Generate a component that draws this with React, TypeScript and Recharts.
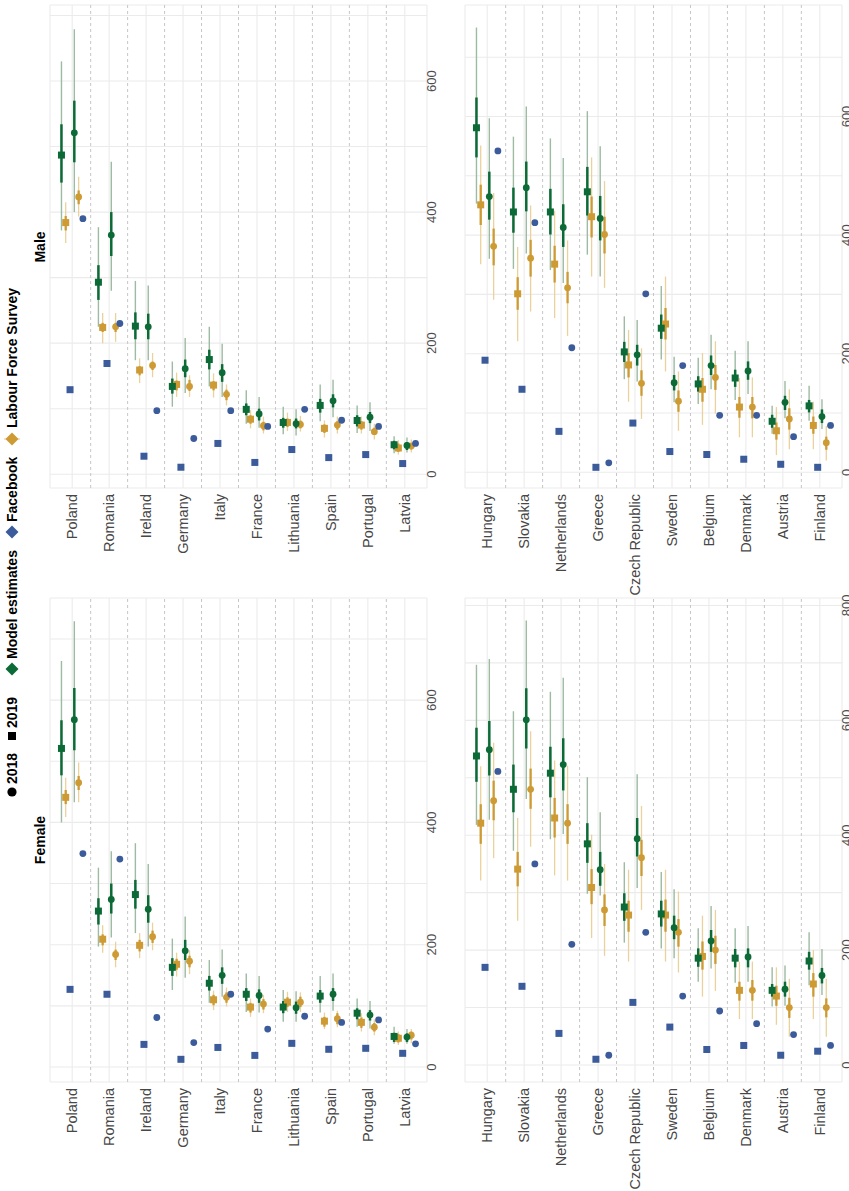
import React from 'react';
import { ScatterChart, Scatter, XAxis, YAxis, CartesianGrid, ErrorBar, ReferenceLine } from 'recharts';

// rows of [estimate, inner low, inner high, outer low, outer high]
const countriesTop = ['Poland', 'Romania', 'Ireland', 'Germany', 'Italy', 'France', 'Lithuania', 'Spain', 'Portugal', 'Latvia'];
const countriesBottom = ['Hungary', 'Slovakia', 'Netherlands', 'Greece', 'Czech Republic', 'Sweden', 'Belgium', 'Denmark', 'Austria', 'Finland'];

const maleTopModel19 = [[487, 445, 534, 372, 630], [293, 266, 319, 225, 377], [226, 206, 247, 174, 295], [134, 123, 146, 103, 172], [175, 160, 190, 134, 225], [99, 90, 108, 77, 128], [79, 71, 86, 61, 103], [105, 94, 115, 81, 137], [82, 73, 90, 63, 105], [45, 38, 51, 32, 58]];
const maleTopLfs19 = [[384, 372, 394, 353, 415], [224, 217, 231, 200, 246], [159, 151, 165, 139, 177], [137, 128, 143, 118, 155], [136, 128, 142, 117, 154], [84, 77, 90, 70, 98], [79, 72, 85, 66, 94], [70, 63, 76, 56, 82], [75, 68, 81, 62, 88], [40, 34, 47, 30, 52]];
const maleTopFb19 = [129, 169, 27.5, 10.7, 47, 18, 37.7, 25.4, 30, 16.3];
const maleTopModel18 = [[521, 476, 570, 400, 679], [365, 333, 400, 280, 477], [225, 206, 245, 174, 288], [161, 148, 175, 124, 208], [155, 141, 168, 118, 199], [92, 82, 100, 71, 118], [77, 70, 85, 59, 99], [112, 102, 122, 87, 144], [87, 78, 95, 66, 110], [44, 37, 49, 33, 56]];
const maleTopLfs18 = [[423, 412, 433, 393, 454], [225, 217, 231, 202, 246], [166, 159, 172, 148, 185], [134, 127, 144, 118, 151], [122, 113, 129, 105, 137], [74, 67, 80, 62, 88], [76, 70, 82, 65, 89], [75, 68, 81, 62, 88], [65, 60, 71, 53, 77], [43, 38, 48, 33, 53]];
const maleTopFb18 = [390, 230, 97, 54.5, 97, 73, 99, 82.4, 73, 47];

const maleBotModel19 = [[581, 531, 632, 453, 750], [439, 404, 480, 343, 566], [439, 401, 478, 341, 563], [473, 433, 515, 367, 609], [203, 186, 220, 157, 263], [243, 225, 266, 190, 314], [149, 136, 162, 115, 193], [159, 144, 173, 122, 205], [86, 75, 97, 65, 112], [112, 101, 122, 87, 146]];
const maleBotLfs19 = [[451, 417, 485, 351, 551], [301, 274, 329, 221, 380], [351, 320, 382, 260, 441], [431, 396, 465, 330, 531], [181, 160, 201, 119, 240], [250, 224, 277, 170, 330], [140, 119, 159, 80, 201], [110, 92, 127, 59, 159], [70, 55, 84, 29, 110], [79, 65, 94, 39, 119]];
const maleBotFb19 = [189, 140, 69, 8.4, 83, 35, 30, 22, 13.5, 8.4];
const maleBotModel18 = [[465, 426, 507, 360, 597], [480, 440, 524, 369, 617], [413, 380, 452, 319, 530], [428, 391, 466, 330, 550], [198, 180, 215, 153, 257], [151, 138, 164, 118, 195], [180, 164, 197, 140, 232], [171, 156, 187, 132, 221], [118, 105, 129, 91, 154], [94, 83, 106, 73, 123]];
const maleBotLfs18 = [[381, 349, 411, 291, 471], [361, 330, 392, 271, 450], [311, 285, 338, 230, 391], [401, 369, 431, 311, 491], [150, 129, 172, 90, 209], [120, 102, 138, 70, 170], [160, 139, 181, 99, 221], [110, 91, 127, 59, 160], [90, 72, 108, 39, 140], [50, 38, 60, 20, 78]];
const maleBotFb18 = [542, 421, 210, 16, 301, 180, 96, 96, 60, 79];

const femTopModel19 = [[521, 477, 567, 400, 664], [255, 233, 276, 197, 326], [282, 259, 306, 219, 366], [163, 149, 178, 126, 210], [137, 125, 149, 105, 175], [119, 108, 129, 90, 153], [98, 88, 108, 74, 126], [116, 105, 126, 89, 149], [88, 78, 96, 66, 112], [50, 41, 56, 38, 66]];
const femTopLfs19 = [[441, 430, 453, 409, 473], [209, 199, 217, 187, 232], [199, 189, 208, 178, 219], [168, 159, 177, 148, 187], [110, 101, 118, 93, 125], [98, 89, 105, 82, 112], [106, 98, 114, 90, 123], [75, 66, 82, 62, 89], [73, 64, 81, 58, 88], [47, 40, 54, 36, 58]];
const femTopFb19 = [127, 119, 37, 12.6, 32, 19, 38.7, 29, 30.6, 22.4];
const femTopModel18 = [[568, 518, 620, 433, 729], [274, 251, 300, 212, 353], [258, 236, 281, 197, 332], [190, 175, 208, 146, 246], [150, 136, 163, 115, 192], [117, 105, 127, 89, 149], [97, 87, 107, 74, 124], [119, 108, 129, 92, 153], [85, 76, 93, 63, 108], [49, 41, 55, 38, 62]];
const femTopLfs18 = [[465, 453, 476, 433, 498], [184, 175, 192, 163, 205], [213, 203, 223, 191, 236], [173, 163, 182, 152, 191], [114, 105, 122, 99, 130], [103, 94, 111, 88, 118], [106, 98, 115, 90, 122], [79, 70, 88, 65, 92], [65, 58, 72, 52, 78], [52, 45, 58, 39, 62]];
const femTopFb18 = [349, 340, 81, 40, 119, 62, 83, 73, 77, 38];

const femBotModel19 = [[538, 493, 587, 418, 697], [480, 440, 523, 373, 616], [508, 466, 554, 393, 650], [385, 352, 421, 298, 501], [275, 251, 299, 213, 353], [263, 241, 286, 203, 336], [186, 171, 203, 145, 238], [186, 170, 202, 143, 238], [130, 119, 141, 102, 170], [181, 166, 197, 139, 231]];
const femBotLfs19 = [[421, 385, 454, 321, 520], [341, 311, 371, 251, 430], [430, 396, 465, 330, 530], [309, 280, 341, 221, 401], [261, 232, 286, 180, 340], [261, 232, 288, 180, 340], [189, 166, 215, 119, 260], [130, 112, 145, 80, 180], [120, 103, 138, 70, 170], [141, 119, 160, 80, 200]];
const femBotFb19 = [170, 137, 55, 10, 109, 66, 27, 34, 17, 24];
const femBotModel18 = [[549, 504, 599, 427, 707], [601, 551, 656, 463, 774], [523, 478, 569, 402, 674], [340, 312, 371, 295, 440], [394, 363, 430, 308, 506], [239, 219, 260, 186, 306], [216, 197, 235, 168, 277], [188, 170, 203, 145, 242], [132, 119, 145, 103, 173], [156, 142, 169, 122, 202]];
const femBotLfs18 = [[460, 426, 495, 360, 561], [480, 446, 516, 380, 581], [421, 385, 454, 321, 521], [270, 242, 297, 190, 350], [361, 329, 392, 270, 451], [231, 206, 254, 161, 302], [200, 176, 225, 129, 270], [130, 112, 148, 80, 180], [100, 82, 117, 49, 150], [100, 83, 116, 49, 150]];
const femBotFb18 = [511, 350, 210, 17, 231, 120, 94, 72, 53, 34];

const ticksTop = [0, 100, 200, 300, 400, 500, 600, 700];
const ticksBottom = [0, 100, 200, 300, 400, 500, 600, 700, 800];

const GREEN = '#0c6a36';
const GREEN_LIGHT = '#9dbaa2';
const GOLD = '#cd9a34';
const GOLD_LIGHT = '#ebd29c';
const BLUE = '#3b5b9b';
const FONT = '"Liberation Sans", Arial, Helvetica, sans-serif';

// dodge offsets in category units
const OFF = [-0.29, -0.175, -0.058, 0.058, 0.175, 0.29];

const panels = [
  { id: 'ft', countries: countriesTop, domain: [-24.5, 767], ticks: ticksTop, left: 0, top: 0, width: 600, height: 470, margin: { top: 50, right: 7, bottom: 0, left: 0 }, yw: 109, xh: 43,
    m19: femTopModel19, l19: femTopLfs19, f19: femTopFb19, m18: femTopModel18, l18: femTopLfs18, f18: femTopFb18 },
  { id: 'mt', countries: countriesTop, domain: [-21, 716], ticks: ticksTop, left: 540, top: 0, width: 651, height: 470, margin: { top: 50, right: 5, bottom: 0, left: 0 }, yw: 163, xh: 43,
    m19: maleTopModel19, l19: maleTopLfs19, f19: maleTopFb19, m18: maleTopModel18, l18: maleTopLfs18, f18: maleTopFb18 },
  { id: 'fb', countries: countriesBottom, domain: [-29.6, 813], ticks: ticksBottom, left: 0, top: 440, width: 600, height: 409, margin: { top: 25, right: 7, bottom: 0, left: 0 }, yw: 109, xh: 7,
    m19: femBotModel19, l19: femBotLfs19, f19: femBotFb19, m18: femBotModel18, l18: femBotLfs18, f18: femBotFb18 },
  { id: 'mb', countries: countriesBottom, domain: [-26.5, 788], ticks: ticksBottom.filter((t) => t < 788), left: 540, top: 440, width: 651, height: 409, margin: { top: 25, right: 5, bottom: 0, left: 0 }, yw: 163, xh: 7,
    m19: maleBotModel19, l19: maleBotLfs19, f19: maleBotFb19, m18: maleBotModel18, l18: maleBotLfs18, f18: maleBotFb18 },
];

const withErr = (rows: number[][], off: number) =>
  rows.map((r, i) => ({ v: r[0], y: i + off, inner: [r[0] - r[1], r[2] - r[0]], outer: [r[0] - r[3], r[4] - r[0]] }));
const plain = (vals: number[], off: number) => vals.map((v, i) => ({ v, y: i + off }));

const square = (color: string) => (p: any) => <rect x={p.cx - 3.5} y={p.cy - 3.5} width={7} height={7} fill={color} />;
const dot = (color: string) => (p: any) => <circle cx={p.cx} cy={p.cy} r={3.4} fill={color} />;

function Panel({ cfg }: any) {
  const n = cfg.countries.length;
  return (
    <div style={{ position: 'absolute', left: cfg.left, top: cfg.top }}>
      <ScatterChart width={cfg.width} height={cfg.height} margin={cfg.margin}>
        <CartesianGrid stroke="#ebebeb" strokeWidth={1.1} />
        <XAxis type="number" dataKey="v" domain={cfg.domain} allowDataOverflow ticks={cfg.ticks} interval={0}
          tickFormatter={(t: number) => (t % 200 === 0 ? String(t) : '')}
          axisLine={false} tickLine={false} tickSize={0} tickMargin={0} height={cfg.xh}
          tick={{ fill: '#4d4d4d', fontSize: 13, fontFamily: FONT }} />
        <YAxis type="number" dataKey="y" domain={[-0.6, n - 0.4]} allowDataOverflow reversed
          ticks={cfg.countries.map((_: string, i: number) => i)} interval={0}
          tickFormatter={(i: number) => cfg.countries[i]}
          axisLine={false} tickLine={false} tickSize={4} width={cfg.yw}
          tick={{ fill: '#474747', fontSize: 14.5, fontFamily: FONT }} />
        {cfg.countries.slice(1).map((_: string, i: number) => (
          <ReferenceLine key={i} y={i + 0.5} stroke="#c6c6c6" strokeDasharray="3 3" />
        ))}
        <Scatter data={withErr(cfg.l19, OFF[1])} shape={square(GOLD)} isAnimationActive={false}>
          <ErrorBar dataKey="outer" direction="x" width={0} stroke={GOLD_LIGHT} strokeWidth={1.3} isAnimationActive={false} />
          <ErrorBar dataKey="inner" direction="x" width={0} stroke={GOLD} strokeWidth={2.3} isAnimationActive={false} />
        </Scatter>
        <Scatter data={withErr(cfg.l18, OFF[4])} shape={dot(GOLD)} isAnimationActive={false}>
          <ErrorBar dataKey="outer" direction="x" width={0} stroke={GOLD_LIGHT} strokeWidth={1.3} isAnimationActive={false} />
          <ErrorBar dataKey="inner" direction="x" width={0} stroke={GOLD} strokeWidth={2.3} isAnimationActive={false} />
        </Scatter>
        <Scatter data={withErr(cfg.m19, OFF[0])} shape={square(GREEN)} isAnimationActive={false}>
          <ErrorBar dataKey="outer" direction="x" width={0} stroke={GREEN_LIGHT} strokeWidth={1.4} isAnimationActive={false} />
          <ErrorBar dataKey="inner" direction="x" width={0} stroke={GREEN} strokeWidth={2.5} isAnimationActive={false} />
        </Scatter>
        <Scatter data={withErr(cfg.m18, OFF[3])} shape={dot(GREEN)} isAnimationActive={false}>
          <ErrorBar dataKey="outer" direction="x" width={0} stroke={GREEN_LIGHT} strokeWidth={1.4} isAnimationActive={false} />
          <ErrorBar dataKey="inner" direction="x" width={0} stroke={GREEN} strokeWidth={2.5} isAnimationActive={false} />
        </Scatter>
        <Scatter data={plain(cfg.f19, OFF[2])} shape={square(BLUE)} isAnimationActive={false} />
        <Scatter data={plain(cfg.f18, OFF[5])} shape={dot(BLUE)} isAnimationActive={false} />
      </ScatterChart>
    </div>
  );
}

const diamond = (x: number, y: number, r: number) => `${x},${y - r} ${x + r},${y} ${x},${y + r} ${x - r},${y}`;

function LegendBar() {
  const ts = { fontFamily: FONT, fontSize: 14, fontWeight: 700, fill: '#000' } as any;
  return (
    <svg width={1191} height={26} style={{ position: 'absolute', left: 0, top: 0 }}>
      <circle cx={399} cy={12} r={4.6} fill="#000" />
      <text x={407} y={17} {...ts}>2018</text>
      <rect x={451} y={8} width={8} height={8} fill="#000" />
      <text x={463} y={17} {...ts}>2019</text>
      <polygon points={diamond(522, 12, 6.5)} fill={GREEN} />
      <text x={532} y={17} {...ts}>Model estimates</text>
      <polygon points={diamond(659, 12, 6.5)} fill={BLUE} />
      <text x={669} y={17} {...ts}>Facebook</text>
      <line x1={752} y1={4} x2={752} y2={20} stroke={GOLD_LIGHT} strokeWidth={1.2} />
      <polygon points={diamond(752, 12, 6.5)} fill={GOLD} />
      <text x={763} y={17} {...ts}>Labour Force Survey</text>
    </svg>
  );
}

export default function App() {
  return (
    <div style={{ position: 'absolute', left: 0, top: 0, width: 849, height: 1191, overflow: 'hidden', background: '#fff' }}>
      <div style={{ position: 'absolute', left: 0, top: 1191, width: 1191, height: 849, transform: 'rotate(-90deg)', transformOrigin: '0 0', fontFamily: FONT }}>
        <LegendBar />
        <div style={{ position: 'absolute', left: 351, top: 31, transform: 'translateX(-50%)', fontWeight: 700, fontSize: 14, lineHeight: '18px', whiteSpace: 'nowrap' }}>Female</div>
        <div style={{ position: 'absolute', left: 944, top: 31, transform: 'translateX(-50%)', fontWeight: 700, fontSize: 14, lineHeight: '18px', whiteSpace: 'nowrap' }}>Male</div>
        {panels.map((p) => <Panel key={p.id} cfg={p} />)}
      </div>
    </div>
  );
}
